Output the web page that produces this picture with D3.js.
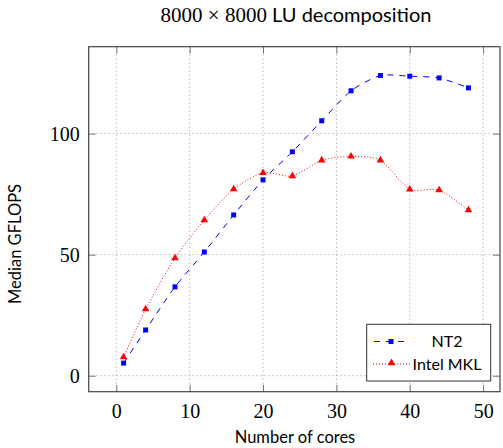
<!DOCTYPE html>
<html><head><meta charset="utf-8">
<script src="https://cdn.jsdelivr.net/npm/d3@7"></script>
<style>body{margin:0;background:#fff}svg{display:block}</style>
</head><body>
<script>
const cores = [1,4,8,12,16,20,24,28,32,36,40,44,48];
const nt2 = [5.2,18.9,36.7,51.1,66.4,80.9,92.5,105.3,117.7,124.0,123.7,123.0,118.9];
const mkl = [7.7,27.5,48.6,64.3,77.1,83.8,82.5,89.0,90.6,89.0,77.0,76.7,68.4];
const xTicks = [0,10,20,30,40,50];
const yTicks = [0,50,100];
const seriesNames = ["NT2","Intel MKL"];

const W=503,H=448;
const svg=d3.select("body").append("svg").attr("width",W).attr("height",H);
const L=88.7,R=500,T=46.7,B=391.7;
const x=d3.scaleLinear().domain([-3.76,52.3]).range([L,R]);
const y=d3.scaleLinear().domain([-6.6,135.9]).range([B,T]);

// grid
const g=svg.append("g");
xTicks.forEach(t=>g.append("line").attr("x1",x(t)).attr("x2",x(t)).attr("y1",T).attr("y2",B)
  .attr("stroke","#999").attr("stroke-width",1).attr("stroke-dasharray","1,3"));
yTicks.forEach(t=>g.append("line").attr("x1",L).attr("x2",R).attr("y1",y(t)).attr("y2",y(t))
  .attr("stroke","#999").attr("stroke-width",1).attr("stroke-dasharray","1,3"));

// axes with inward ticks on all sides
const tk=7;
const axB=svg.append("g").attr("transform",`translate(0,${B})`)
  .call(d3.axisBottom(x).tickValues(xTicks).tickSizeInner(-tk).tickSizeOuter(0).tickPadding(12));
const axT=svg.append("g").attr("transform",`translate(0,${T})`)
  .call(d3.axisTop(x).tickValues(xTicks).tickSizeInner(-tk).tickSizeOuter(0).tickFormat(""));
const axL=svg.append("g").attr("transform",`translate(${L},0)`)
  .call(d3.axisLeft(y).tickValues(yTicks).tickSizeInner(-tk).tickSizeOuter(0).tickPadding(9));
const axR=svg.append("g").attr("transform",`translate(${R},0)`)
  .call(d3.axisRight(y).tickValues(yTicks).tickSizeInner(-tk).tickSizeOuter(0).tickFormat(""));
[axB,axT,axL,axR].forEach(a=>{
  a.select(".domain").remove();
  a.selectAll(".tick line").attr("stroke","#777").attr("stroke-width",1);
  a.selectAll("text").attr("fill","#000").attr("font-family","'Liberation Serif',serif").attr("font-size",20);
});
axB.selectAll("text").attr("dy","0.71em");
svg.append("rect").attr("x",L).attr("y",T).attr("width",R-L).attr("height",B-T)
  .attr("fill","none").attr("stroke","#444").attr("stroke-width",1.2);

// lines
const line=d3.line().curve(d3.curveCardinal.tension(0.3));
const ptsN=cores.map((c,i)=>[x(c),y(nt2[i])]);
const ptsM=cores.map((c,i)=>[x(c),y(mkl[i])]);
svg.append("path").attr("d",line(ptsN)).attr("fill","none").attr("stroke","#0000ff")
  .attr("stroke-width",1).attr("stroke-dasharray","6,6");
svg.append("path").attr("d",line(ptsM)).attr("fill","none").attr("stroke","#ff0000")
  .attr("stroke-width",1).attr("stroke-dasharray","1,2");
const sq=d3.symbol().type(d3.symbolSquare).size(25);
const tri=d3.symbol().type(d3.symbolTriangle).size(25);
svg.selectAll(".mn").data(ptsN).enter().append("path").attr("d",sq)
  .attr("transform",d=>`translate(${d[0]},${d[1]})`).attr("fill","#0000ff");
svg.selectAll(".mm").data(ptsM).enter().append("path").attr("d",tri)
  .attr("transform",d=>`translate(${d[0]},${d[1]})`).attr("fill","#ff0000");

// legend
const lg=svg.append("g");
lg.append("rect").attr("x",366.7).attr("y",324.3).attr("width",124).attr("height",56.7)
  .attr("fill","#fff").attr("stroke","#333").attr("stroke-width",1);
const ly=[341.5,364];
lg.append("line").attr("x1",373).attr("x2",406).attr("y1",ly[0]).attr("y2",ly[0])
  .attr("stroke","#0000ff").attr("stroke-dasharray","6,6").attr("stroke-dashoffset",-1);
lg.append("path").attr("d",sq).attr("transform",`translate(391,${ly[0]})`).attr("fill","#0000ff");
lg.append("line").attr("x1",373).attr("x2",410).attr("y1",ly[1]).attr("y2",ly[1])
  .attr("stroke","#ff0000").attr("stroke-dasharray","1,2");
lg.append("path").attr("d",tri).attr("transform",`translate(391.5,${ly[1]-1})`).attr("fill","#ff0000");
seriesNames.forEach((n,i)=>lg.append("text").attr("x",447).attr("y",ly[i]).attr("dy","0.36em")
  .attr("text-anchor","middle").attr("font-family","Lato,sans-serif").attr("font-size",16).text(n));

// title and labels
const tt=svg.append("text").attr("x",296).attr("y",22).attr("text-anchor","middle");
tt.append("tspan").attr("font-family","'Liberation Serif',serif").attr("font-size",21).text("8000 × 8000");
tt.append("tspan").attr("font-family","Lato,sans-serif").attr("font-size",20).text(" LU decomposition");
svg.append("text").attr("x",295).attr("y",443).attr("text-anchor","middle")
  .attr("font-family","Lato,sans-serif").attr("font-size",16.5).text("Number of cores");
svg.append("text").attr("transform","translate(21,244) rotate(-90)").attr("text-anchor","middle")
  .attr("font-family","Lato,sans-serif").attr("font-size",16.5).text("Median GFLOPS");
</script>
</body></html>
